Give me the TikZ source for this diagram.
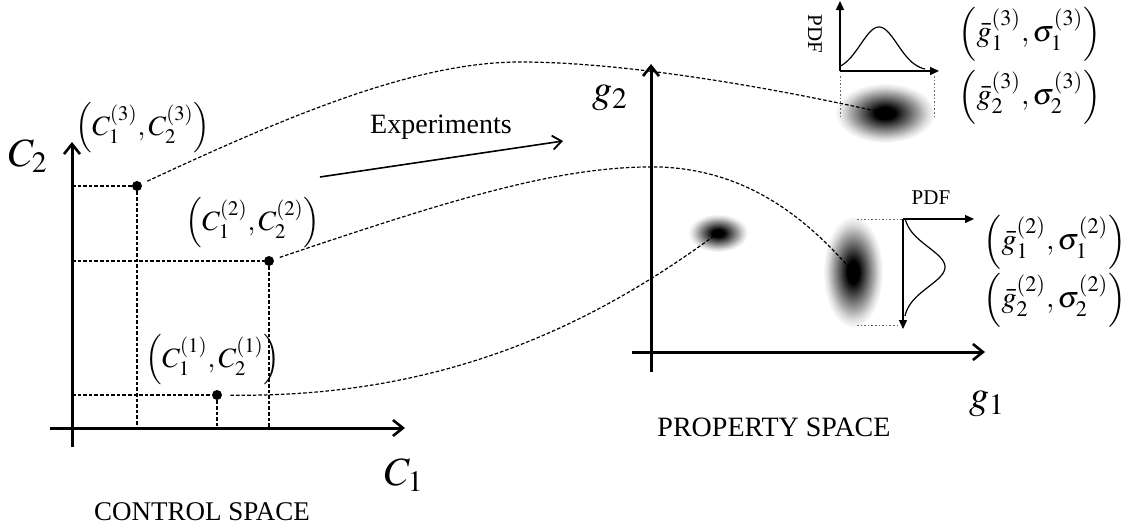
\documentclass[tikz,border=0pt]{standalone}
\usepackage{mathptmx}
\usepackage{fontspec}
\setmainfont{Liberation Serif}
\usetikzlibrary{arrows.meta,shapes.geometric}
\pgfdeclareradialshading{blob}{\pgfpoint{0bp}{0bp}}{color(0bp)=(black); color(5bp)=(black); color(10bp)=(black!72); color(16bp)=(black!40); color(21bp)=(black!14); color(25bp)=(white); color(50bp)=(white)}
\begin{document}
\begin{tikzpicture}[x=0.5pt,y=-0.5pt,
 axis/.style={line width=1.5pt,-{Straight Barb[length=5pt,width=8pt,line width=1.3pt]}},
 guide/.style={line width=0.6pt, dash pattern=on 1.8pt off 1pt},
 link/.style={line width=0.6pt, dash pattern=on 1.8pt off 1pt},
 pdfax/.style={line width=0.7pt,-{Triangle[length=4.5pt,width=4pt]}},
 dotline/.style={line width=0.5pt, black!60, dash pattern=on 0.8pt off 1pt},
 pt/.style={circle, fill=black, inner sep=0pt, minimum size=5pt},
 blobnode/.style={ellipse, shade, shading=blob, inner sep=0pt},
 lbl/.style={font=\fontsize{14}{16}\selectfont, inner sep=0pt},
 glbl/.style={font=\fontsize{15}{17}\selectfont, inner sep=0pt},
 axlbl/.style={font=\fontsize{20}{24}\selectfont, inner sep=0pt},
 title/.style={font=\fontsize{13.5}{16}\selectfont, inner sep=0pt},
 pdflbl/.style={font=\fontsize{10.5}{12}\selectfont, inner sep=0pt},
]
\useasboundingbox (0,0) rectangle (1126,531);

% ---------- control space ----------
\coordinate (lvb) at (72,447);
\coordinate (lvt) at (72,142);
\coordinate (lhl) at (50,428);
\coordinate (lhr) at (405,428);
\draw[axis] (lvb) -- (lvt);
\draw[axis] (lhl) -- (lhr);

\node[pt] (p3) at (137,186) {};
\node[pt] (p2) at (269,261) {};
\node[pt] (p1) at (217,395) {};

\coordinate (p3y) at (72,186);
\coordinate (p3x) at (137,428);
\coordinate (p2y) at (72,261);
\coordinate (p2x) at (269,428);
\coordinate (p1y) at (72,395);
\coordinate (p1x) at (217,428);
\draw[guide] (p3y) -- (p3);
\draw[guide] (p3) -- (p3x);
\draw[guide] (p2y) -- (p2);
\draw[guide] (p2) -- (p2x);
\draw[guide] (p1y) -- (p1);
\draw[guide] (p1) -- (p1x);

\node[lbl] (l3) at (143,128) {$\left(C_1^{(3)},C_2^{(3)}\right)$};
\node[lbl] (l2) at (253,223) {$\left(C_1^{(2)},C_2^{(2)}\right)$};
\node[lbl] (l1) at (213,360) {$\left(C_1^{(1)},C_2^{(1)}\right)$};

\node[axlbl] (c2) at (28,156) {$C_2$};
\node[axlbl] (c1) at (404,475) {$C_1$};
\node[title] (cs) at (202,512) {CONTROL SPACE};

% ---------- experiments arrow ----------
\node[font=\fontsize{14}{16}\selectfont, inner sep=0pt] (exp) at (441,127) {Experiments};
\coordinate (e1) at (320,177);
\coordinate (e2) at (563,141);
\draw[line width=0.8pt,-{Straight Barb[length=4.5pt,width=7pt,line width=0.9pt]}] (e1) -- (e2);

% ---------- property space ----------
\coordinate (rvb) at (651,372);
\coordinate (rvt) at (651,64);
\coordinate (rhl) at (632,352);
\coordinate (rhr) at (985,352);
\draw[axis] (rvb) -- (rvt);
\draw[axis] (rhl) -- (rhr);

\node[axlbl] (g2) at (610,98) {$g_2$};
\node[axlbl] (g1) at (987,404) {$g_1$};
\node[title, font=\fontsize{14}{16}\selectfont] (ps) at (774,427) {PROPERTY SPACE};

\node[blobnode, minimum width=50pt, minimum height=30pt] (b3) at (885,113) {};
\node[blobnode, minimum width=30pt, minimum height=56pt] (b2) at (853,272) {};
\node[blobnode, minimum width=30pt, minimum height=19pt] (b1) at (718,233) {};

% connectors
\draw[link, shorten <=3pt] (p3) .. controls (300,110) and (420,62) .. (520,62)
   .. controls (620,62) and (760,85) .. (b3.center);
\draw[link, shorten <=3pt] (p2) .. controls (450,200) and (560,165) .. (660,167)
   .. controls (740,170) and (800,210) .. (b2.center);
\draw[link, shorten <=4pt] (p1) .. controls (450,398) and (600,320) .. (b1.center);

% ---------- top PDF ----------
\coordinate (t0) at (840,71);
\coordinate (tt) at (840,1);
\coordinate (tr) at (939,71);
\draw[pdfax] (t0) -- (tt);
\draw[pdfax] (t0) -- (tr);
\draw[line width=0.6pt] plot[domain=840:925,samples=60] (\x,{71-44*exp(-((\x-879)/26)^2)});
\coordinate (d1a) at (840,76);
\coordinate (d1b) at (840,118);
\coordinate (d2a) at (934,76);
\coordinate (d2b) at (934,118);
\draw[dotline] (d1a) -- (d1b);
\draw[dotline] (d2a) -- (d2b);
\node[pdflbl, rotate=-90] (pdft) at (815,34) {PDF};

\node[glbl] (gt1) at (1030,34) {$\Bigl(\bar g_1^{(3)},\sigma_1^{(3)}\Bigr)$};
\node[glbl] (gt2) at (1030,97) {$\Bigl(\bar g_2^{(3)},\sigma_2^{(3)}\Bigr)$};

% ---------- right PDF ----------
\coordinate (s0) at (903,219);
\coordinate (sb) at (903,329);
\coordinate (sr) at (974,219);
\draw[pdfax] (s0) -- (sb);
\draw[pdfax] (s0) -- (sr);
\draw[line width=0.6pt] plot[domain=219:316,samples=60] ({903+42*exp(-((\x-267)/28)^2)},\x);
\coordinate (h1a) at (857,219);
\coordinate (h2a) at (857,325);
\coordinate (h2b) at (900,325);
\draw[dotline] (h1a) -- (s0);
\draw[dotline] (h2a) -- (h2b);
\node[pdflbl] (pdfr) at (931,198) {PDF};

\node[glbl] (gr1) at (1055,242) {$\Bigl(\bar g_1^{(2)},\sigma_1^{(2)}\Bigr)$};
\node[glbl] (gr2) at (1055,300) {$\Bigl(\bar g_2^{(2)},\sigma_2^{(2)}\Bigr)$};
\end{tikzpicture}
\end{document}
